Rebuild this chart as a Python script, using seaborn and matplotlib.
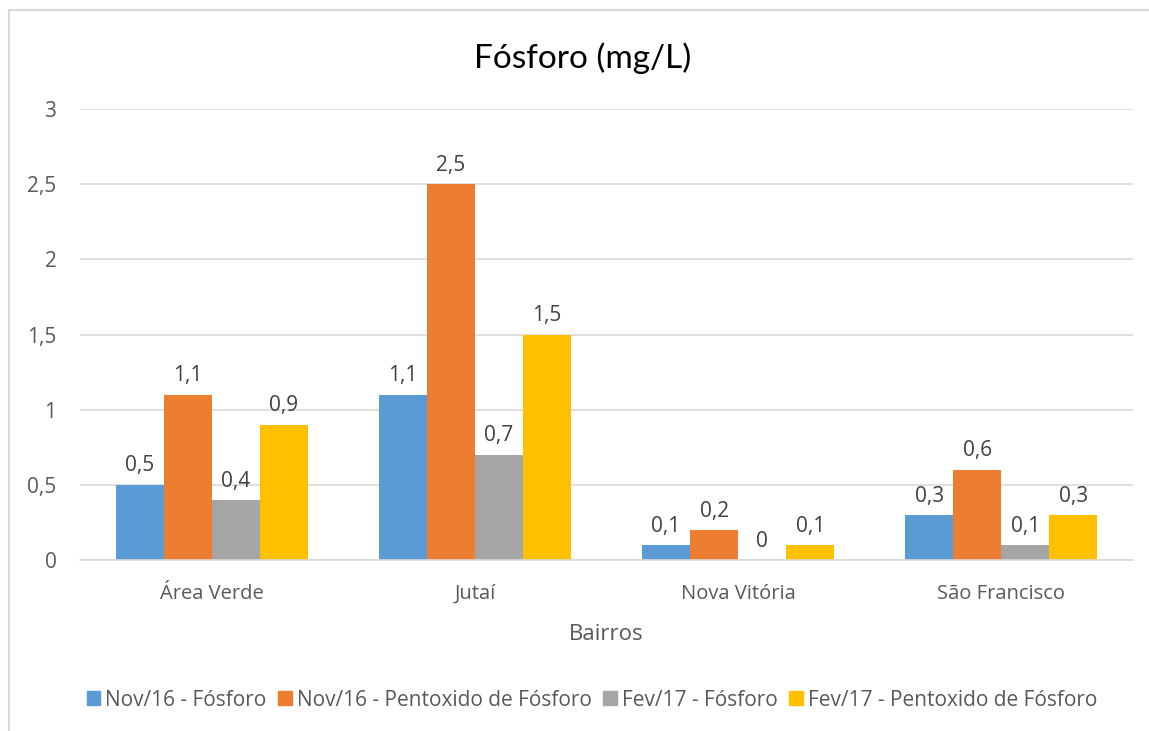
import pandas as pd
import matplotlib.pyplot as plt
import seaborn as sns

# Chart data
bairros = ["Área Verde", "Jutaí", "Nova Vitória", "São Francisco"]
series = ["Nov/16 - Fósforo", "Nov/16 - Pentoxido de Fósforo",
          "Fev/17 - Fósforo", "Fev/17 - Pentoxido de Fósforo"]
nov16_fosforo = [0.5, 1.1, 0.1, 0.3]
nov16_pentoxido = [1.1, 2.5, 0.2, 0.6]
fev17_fosforo = [0.4, 0.7, 0.0, 0.1]
fev17_pentoxido = [0.9, 1.5, 0.1, 0.3]
y_ticks = [0, 0.5, 1, 1.5, 2, 2.5, 3]

colors = ["#5B9BD5", "#ED7D31", "#A5A5A5", "#FFC000"]


def fmt(v):
    # Portuguese decimal comma, no trailing zeros
    s = f"{v:g}"
    return s.replace(".", ",")


def main():
    values = [nov16_fosforo, nov16_pentoxido, fev17_fosforo, fev17_pentoxido]
    rows = []
    for name, vals in zip(series, values):
        for b, v in zip(bairros, vals):
            rows.append({"bairro": b, "serie": name, "valor": v})
    df = pd.DataFrame(rows)

    sns.set_style("white")
    plt.rcParams["font.family"] = ["Open Sans", "DejaVu Sans"]

    fig = plt.figure(figsize=(11.49, 7.31), dpi=100)
    ax = fig.add_axes([80 / 1149, 1 - 560 / 731, 1053 / 1149, 451 / 731])

    sns.barplot(data=df, x="bairro", y="valor", hue="serie", order=bairros,
                hue_order=series, palette=colors, width=0.73, gap=0,
                saturation=1, ax=ax, legend=False, errorbar=None,
                linewidth=0, edgecolor="none")

    # data labels
    for cont, vals in zip(ax.containers, values):
        ax.bar_label(cont, labels=[fmt(v) for v in vals], padding=6,
                     fontsize=15, color="#404040")

    ax.set_ylim(0, 3)
    ax.set_xlim(-0.5, 3.5)
    ax.set_yticks(y_ticks)
    ax.set_yticklabels([fmt(t) for t in y_ticks])
    ax.yaxis.grid(True, color="#D9D9D9", linewidth=1.2)
    ax.set_axisbelow(True)
    for s in ["left", "right", "top"]:
        ax.spines[s].set_visible(False)
    ax.spines["bottom"].set_color("#D9D9D9")
    ax.spines["bottom"].set_linewidth(1.2)
    ax.tick_params(axis="y", length=0, pad=17, labelsize=15, labelcolor="#595959")
    ax.tick_params(axis="x", length=0, pad=17, labelsize=14.5, labelcolor="#595959")
    ax.set_ylabel("")
    ax.set_xlabel("Bairros", fontsize=16, color="#595959", labelpad=15)

    fig.text(583 / 1149, 1 - 58 / 731, "Fósforo (mg/L)", ha="center", va="center",
             fontsize=24, color="#000000", family=["Lato", "DejaVu Sans"])

    # legend
    handles = [plt.Rectangle((0, 0), 1, 1, color=c) for c in colors]
    fig.legend(handles, series, loc="center", bbox_to_anchor=(592 / 1149, 1 - 700 / 731),
               ncol=4, frameon=False, fontsize=15, labelcolor="#595959",
               handlelength=0.65, handleheight=0.65, handletextpad=0.25,
               columnspacing=0.55, borderaxespad=0)

    # chart border (top and left visible)
    fig.add_artist(plt.Line2D([9 / 1149, 1], [1 - 10 / 731, 1 - 10 / 731],
                              color="#D9D9D9", linewidth=1.5))
    fig.add_artist(plt.Line2D([9 / 1149, 9 / 1149], [0, 1 - 10 / 731],
                              color="#D9D9D9", linewidth=1.5))

    fig.savefig("out.png", dpi=100)


if __name__ == "__main__":
    main()
